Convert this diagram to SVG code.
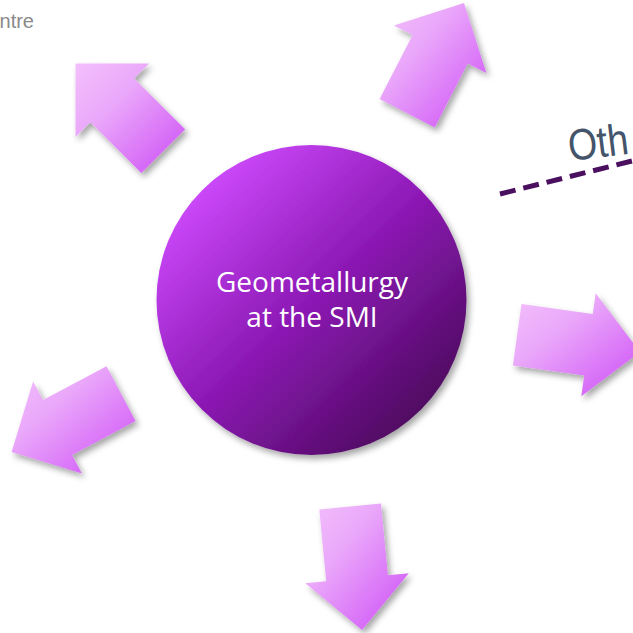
<svg xmlns="http://www.w3.org/2000/svg" width="633" height="633" viewBox="0 0 633 633">
  <defs>
    <linearGradient id="circleGrad" x1="0.12" y1="0.1" x2="0.88" y2="0.9">
      <stop offset="0" stop-color="#d04cff"/>
      <stop offset="0.5" stop-color="#8c18b4"/>
      <stop offset="1" stop-color="#4a0a5a"/>
    </linearGradient>
    <linearGradient id="arrowGrad" x1="0" y1="0" x2="1" y2="1">
      <stop offset="0" stop-color="#f3c0fb"/>
      <stop offset="0.35" stop-color="#eaa8fa"/>
      <stop offset="1" stop-color="#cd4cf6"/>
    </linearGradient>
    <filter id="shadow" x="-20%" y="-20%" width="150%" height="150%">
      <feDropShadow dx="3" dy="4" stdDeviation="3" flood-color="#000" flood-opacity="0.35"/>
    </filter>
  </defs>
  <style>
    .arrow { fill: url(#arrowGrad); filter: url(#shadow); }
    .hub { fill: url(#circleGrad); filter: url(#shadow); }
    .hubText { font-family: "Open Sans", "Noto Sans", sans-serif; font-size: 28px; fill: #ffffff; text-anchor: middle; }
    .corner { font-family: "Liberation Sans", Arial, sans-serif; font-size: 20px; fill: #8a8a8a; }
    .oth { font-family: "Liberation Sans", Arial, sans-serif; font-size: 44px; fill: #44546a; }
    .dash { stroke: #4a0f5e; stroke-width: 5; stroke-dasharray: 16 8; fill: none; }
  </style>
  <rect width="633" height="633" fill="#ffffff"/>

  <text class="corner" x="34" y="28" text-anchor="end">ntre</text>

  <g id="connectors">
    <line class="dash" x1="500" y1="194" x2="640" y2="159"/>
  </g>

  <text class="oth" transform="translate(570,161) rotate(-7) scale(0.85,1)">Oth</text>

  <g id="arrow-nw">
    <polygon class="arrow" points="75.5,63.5 149,63.5 134.2,78.4 185.1,129.3 141.3,173.1 90.4,122.2 75.5,137"/>
  </g>
  <g id="arrow-ne">
    <polygon class="arrow" points="464,3 486.4,73.1 467.7,63.4 434.7,127.4 379.6,99 412.6,35 393.9,25.4"/>
  </g>
  <g id="arrow-e">
    <polygon class="arrow" points="640,352 581.3,396.3 584.2,375.5 512.9,365.4 521.5,304 592.8,314.1 595.7,293.3"/>
  </g>
  <g id="arrow-sw">
    <polygon class="arrow" points="11.6,452 33.1,381.6 43,400.1 106.5,366.3 135.6,421 72.1,454.9 81.9,473.4"/>
  </g>
  <g id="arrow-s">
    <polygon class="arrow" points="362,630 305.3,583.2 326.2,581.2 319.3,509.5 381,503.6 387.9,575.3 408.8,573.3"/>
  </g>

  <g id="hub">
    <circle class="hub" cx="311.5" cy="300" r="155"/>
    <text class="hubText" x="312" y="292">Geometallurgy</text>
    <text class="hubText" x="312" y="327">at the SMI</text>
  </g>
</svg>
